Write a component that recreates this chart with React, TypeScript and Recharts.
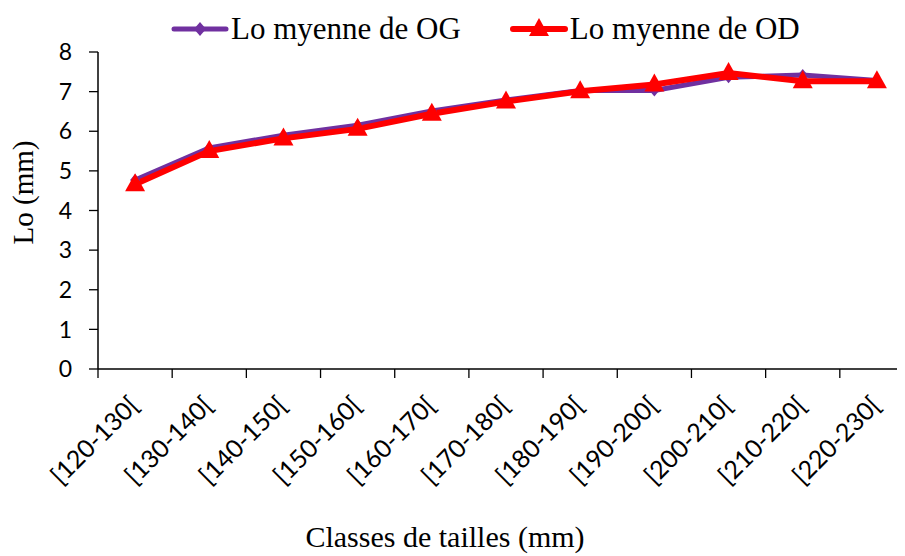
import { ComposedChart, Line, XAxis, YAxis, Legend } from 'recharts';

const categories = ['[120-130[', '[130-140[', '[140-150[', '[150-160[', '[160-170[', '[170-180[', '[180-190[', '[190-200[', '[200-210[', '[210-220[', '[220-230['];
const ogValues = [4.77, 5.58, 5.9, 6.15, 6.51, 6.79, 7.03, 7.03, 7.36, 7.42, 7.28];
const odValues = [4.66, 5.5, 5.82, 6.06, 6.44, 6.75, 7.01, 7.18, 7.47, 7.26, 7.26];
const yTicks = [0, 1, 2, 3, 4, 5, 6, 7, 8];

const data = categories.map((label, i) => ({ label, og: ogValues[i], od: odValues[i] }));

const OG_COLOR = '#7030a0';
const OD_COLOR = '#ff0000';
const serif = '"Liberation Serif", "Times New Roman", serif';
const sans = 'Lato, "Open Sans", sans-serif';

function Diamond({ cx, cy }: any) {
  if (cx == null || cy == null) return null;
  return <polygon points={`${cx},${cy - 6} ${cx + 5},${cy} ${cx},${cy + 6} ${cx - 5},${cy}`} fill={OG_COLOR} />;
}

function Triangle({ cx, cy }: any) {
  if (cx == null || cy == null) return null;
  return <polygon points={`${cx},${cy - 11} ${cx + 10},${cy + 7} ${cx - 10},${cy + 7}`} fill={OD_COLOR} />;
}

// tick labels sit at band centres, tick marks at the band edges
function CategoryTick({ x, y, payload, index }: any) {
  const half = payload.offset ?? 0;
  return (
    <g>
      <line x1={x - half} y1={y} x2={x - half} y2={y + 9} stroke="#000" strokeWidth={1.3} />
      {index === categories.length - 1 && (
        <line x1={x + half} y1={y} x2={x + half} y2={y + 9} stroke="#000" strokeWidth={1.3} />
      )}
      <g transform={`translate(${x + 5},${y + 38})`}>
        <text transform="rotate(-45)" textAnchor="end" fontSize={25} fontFamily={sans} fill="#000">
          {payload.value}
        </text>
      </g>
    </g>
  );
}

function LegendBox() {
  const item = (name: string, color: string, marker: 'diamond' | 'triangle') => (
    <span style={{ display: 'inline-flex', alignItems: 'center' }}>
      <svg width={58} height={26} style={{ marginRight: 2 }}>
        <line x1={3} y1={13} x2={55} y2={13} stroke={color} strokeWidth={marker === 'diamond' ? 5 : 6} strokeLinecap="round" />
        {marker === 'diamond' ? (
          <polygon points="29,6 35,13 29,20 23,13" fill={color} />
        ) : (
          <polygon points="29,2 39,20 19,20" fill={color} />
        )}
      </svg>
      <span>{name}</span>
    </span>
  );
  return (
    <div style={{ display: 'flex', gap: 49, fontFamily: serif, fontSize: 31, lineHeight: '36px', color: '#000', whiteSpace: 'nowrap' }}>
      {item('Lo myenne de OG', OG_COLOR, 'diamond')}
      {item('Lo myenne de OD', OD_COLOR, 'triangle')}
    </div>
  );
}

export default function App() {
  return (
    <div style={{ width: 897, height: 548, overflow: 'hidden', position: 'relative', background: '#fff' }}>
      <ComposedChart width={920} height={548} data={data} margin={{ top: 44, right: 14, bottom: 0, left: 20 }}>
        <XAxis
          dataKey="label"
          scale="band"
          interval={0}
          height={187}
          axisLine={{ stroke: '#000', strokeWidth: 1.5 }}
          tickLine={false}
          tickSize={0}
          tickMargin={0}
          tick={<CategoryTick />}
          label={{
            content: ({ viewBox }: any) => (
              <text x={437} y={viewBox.y + viewBox.height - 9} textAnchor="middle" fontSize={30} fontFamily={serif} fill="#000">
                Classes de tailles (mm)
              </text>
            ),
          }}
        />
        <YAxis
          domain={[0, 8]}
          ticks={yTicks}
          width={70}
          axisLine={{ stroke: '#000', strokeWidth: 1.5 }}
          tickLine={{ stroke: '#000', strokeWidth: 1.3 }}
          tickSize={9}
          tickMargin={17}
          tick={{ fill: '#000', fontSize: 23, fontFamily: sans }}
          label={{
            content: ({ viewBox }: any) => (
              <text
                transform={`translate(${viewBox.x - 5},${viewBox.y + viewBox.height / 2 - 18}) rotate(-90)`}
                textAnchor="middle"
                dominantBaseline="central"
                fontSize={29}
                fontFamily={serif}
                fill="#000"
              >
                Lo (mm)
              </text>
            ),
          }}
        />
        <Legend verticalAlign="middle" align="center" wrapperStyle={{ top: 3, left: 163, width: 700 }} content={<LegendBox />} />
        <Line dataKey="og" name="Lo myenne de OG" stroke={OG_COLOR} strokeWidth={5} dot={<Diamond />} isAnimationActive={false} />
        <Line dataKey="od" name="Lo myenne de OD" stroke={OD_COLOR} strokeWidth={6} dot={<Triangle />} isAnimationActive={false} />
      </ComposedChart>
    </div>
  );
}
